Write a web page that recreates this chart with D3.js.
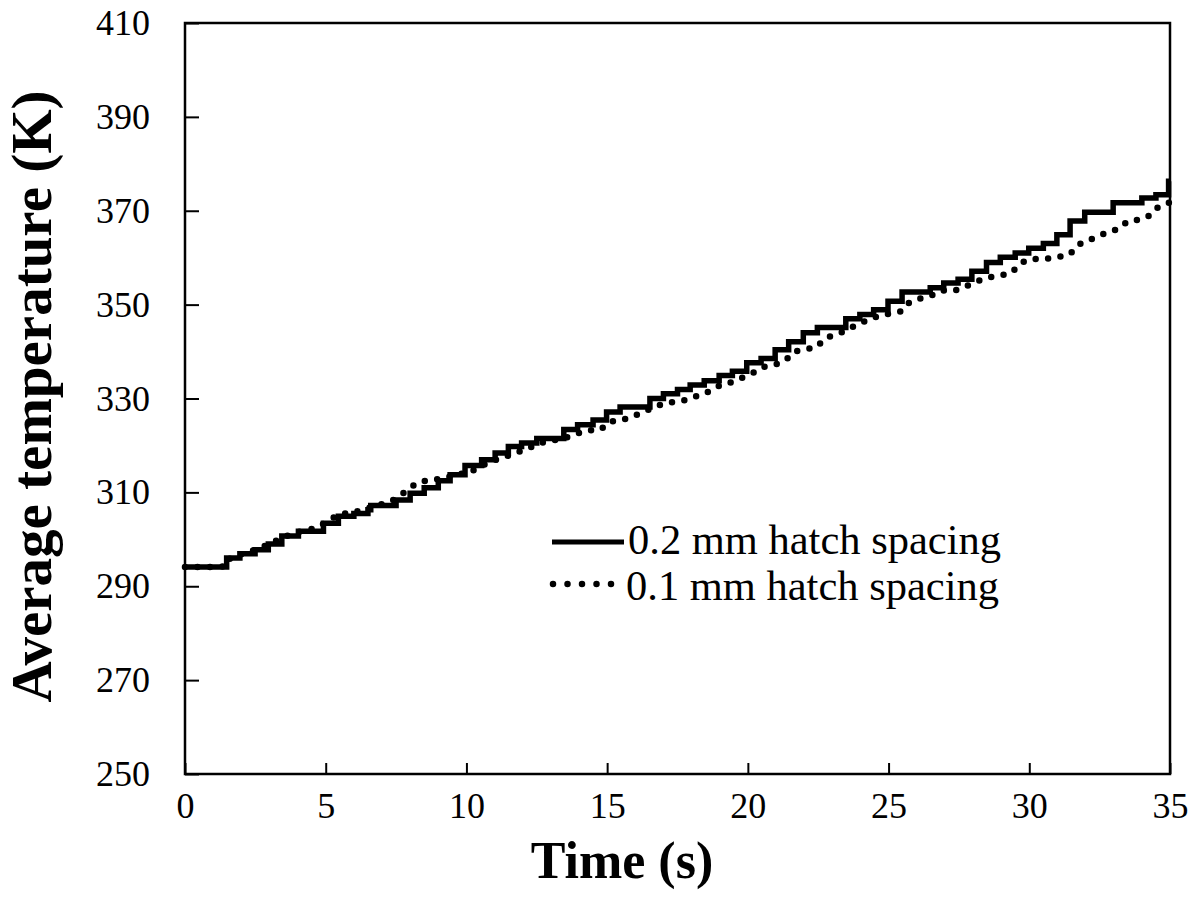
<!DOCTYPE html>
<html>
<head>
<meta charset="utf-8">
<script src="https://cdn.jsdelivr.net/npm/d3@7"></script>
<style>
  body { margin: 0; background: #fff; }
  text { font-family: "Liberation Serif", "Times New Roman", serif; fill: #000; }
</style>
</head>
<body>
<script>
// 0.2 mm hatch spacing: step series (start time of each step, temperature)
let solidTime = [0, 1.48, 1.95, 2.49, 2.96, 3.44, 4.03, 4.92, 5.45, 6.0, 6.5, 6.6, 7.5, 8.0, 8.5, 9.0,
  9.42, 9.95, 10.54, 11.02, 11.49, 11.96, 12.5, 13.46, 13.95, 14.5, 14.98, 15.46, 16.52, 17.0, 17.5,
  17.95, 18.45, 18.98, 19.45, 19.96, 20.47, 20.97, 21.45, 21.97, 22.47, 23.48, 23.98, 24.47, 24.98,
  25.48, 26.48, 26.96, 27.47, 27.96, 28.48, 28.97, 29.5, 29.98, 30.5, 30.98, 31.45, 31.97, 32.98,
  34.0, 34.5, 34.95, 35];
let solidTemp = [294.1, 296.0, 296.9, 297.8, 299.0, 300.7, 301.7, 303.4, 304.9, 305.5, 306.3, 307.2, 308.4, 309.8, 311.0, 312.5,
  313.75, 315.7, 316.95, 318.4, 319.8, 320.5, 321.5, 323.4, 324.4, 325.4, 327.1, 328.2, 330.0, 331.0, 331.9,
  332.9, 333.8, 334.9, 335.8, 337.6, 338.5, 340.4, 342.1, 344.0, 345.1, 347.0, 347.9, 348.9, 350.7,
  352.7, 353.6, 354.6, 355.4, 357.1, 359.0, 360.1, 361.0, 362.0, 363.0, 364.9, 367.8, 369.7, 371.7,
  372.7, 373.4, 376.3, 376.3];

// 0.1 mm hatch spacing: points along the dotted curve
let dotTime = [0, 1.0, 1.5, 1.6, 2.0, 2.5, 3.0, 3.5, 4.0, 4.5, 5.0, 5.45, 6.0, 6.5, 7.0, 7.5, 8.0, 8.3,
  8.7, 9.0, 9.45, 10.0, 10.31, 10.8, 11.43, 11.79, 12.2, 12.6, 13.0, 13.41, 13.87, 14.27, 14.75, 15.1,
  15.48, 15.87, 16.24, 16.62, 17.04, 17.48, 17.9, 18.3, 18.72, 19.03, 19.44, 19.83, 20.2, 20.54, 20.97,
  21.34, 21.62, 22.01, 22.45, 22.71, 23.1, 23.49, 23.83, 24.22, 24.6, 25.03, 25.49, 25.73, 26.12, 26.51,
  26.89, 27.36, 27.75, 28.16, 28.52, 28.99, 29.4, 29.64, 30.03, 30.54, 30.98, 31.45, 31.66, 31.98, 32.4,
  32.75, 33.17, 33.5, 33.97, 34.35, 34.59, 34.97];
let dotTemp = [294.1, 294.1, 294.3, 296.0, 296.8, 297.8, 299.0, 300.5, 301.5, 302.2, 303.5, 305.3, 305.8, 306.6, 307.5, 308.6, 311.0, 312.2,
  312.6, 312.8, 313.4, 314.2, 314.8, 316.5, 317.7, 318.5, 319.4, 320.5, 321.0, 321.4, 322.4, 323.2, 323.3, 325.1,
  325.3, 326.1, 327.0, 328.0, 329.0, 329.3, 329.8, 330.8, 331.7, 332.9, 333.5, 334.5, 335.5, 336.7, 337.2,
  338.1, 339.9, 340.5, 340.9, 342.7, 343.7, 344.4, 345.6, 346.6, 347.5, 348.1, 348.6, 350.4, 351.3, 351.9,
  353.0, 353.0, 353.9, 355.0, 355.8, 356.2, 356.9, 358.7, 359.7, 359.7, 360.1, 360.7, 362.4, 363.6, 364.3,
  365.4, 366.1, 367.8, 368.1, 369.2, 370.9, 371.7];

let xTicks = [0, 5, 10, 15, 20, 25, 30, 35];
let yTicks = [250, 270, 290, 310, 330, 350, 370, 390, 410];
let seriesNames = ["0.2 mm hatch spacing", "0.1 mm hatch spacing"];

let width = 1198, height = 915;
let margin = { left: 185, top: 23, right: 28, bottom: 141 };
let plotW = width - margin.left - margin.right;
let plotH = height - margin.top - margin.bottom;

let svg = d3.select("body").append("svg")
  .attr("width", width)
  .attr("height", height);

let g = svg.append("g")
  .attr("transform", "translate(" + margin.left + "," + margin.top + ")");

let x = d3.scaleLinear().domain([0, 35]).range([0, plotW]);
let y = d3.scaleLinear().domain([250, 410]).range([plotH, 0]);

// axes with inward ticks
let xAxis = g.append("g")
  .attr("transform", "translate(0," + plotH + ")")
  .call(d3.axisBottom(x).tickValues(xTicks).tickSizeInner(-11).tickSizeOuter(0).tickPadding(18));
let yAxis = g.append("g")
  .call(d3.axisLeft(y).tickValues(yTicks).tickSizeInner(-14).tickSizeOuter(0).tickPadding(35));

[xAxis, yAxis].forEach(a => {
  a.select(".domain").remove();
  a.selectAll(".tick line").attr("stroke", "#000").attr("stroke-width", 2);
  a.selectAll("text").style("font-size", "36px").attr("fill", "#000");
});

// plot frame
g.append("rect")
  .attr("width", plotW)
  .attr("height", plotH)
  .attr("fill", "none")
  .attr("stroke", "#000")
  .attr("stroke-width", 2.5);

let solidData = solidTime.map((t, i) => [t, solidTemp[i]]);
let dotData = dotTime.map((t, i) => [t, dotTemp[i]]);

let stepLine = d3.line()
  .x(d => x(d[0]))
  .y(d => y(d[1]))
  .curve(d3.curveStepAfter);

let plainLine = d3.line()
  .x(d => x(d[0]))
  .y(d => y(d[1]));

g.append("path")
  .datum(dotData)
  .attr("d", plainLine)
  .attr("fill", "none")
  .attr("stroke", "#000")
  .attr("stroke-width", 6.5)
  .attr("stroke-linecap", "round")
  .attr("stroke-dasharray", "0 12.5");

g.append("path")
  .datum(solidData)
  .attr("d", stepLine)
  .attr("fill", "none")
  .attr("stroke", "#000")
  .attr("stroke-width", 5.5);

// legend
let legend = svg.append("g");
legend.append("line")
  .attr("x1", 552).attr("x2", 624).attr("y1", 542).attr("y2", 542)
  .attr("stroke", "#000").attr("stroke-width", 5);
legend.append("line")
  .attr("x1", 553).attr("x2", 612).attr("y1", 584).attr("y2", 584)
  .attr("stroke", "#000").attr("stroke-width", 6.5)
  .attr("stroke-linecap", "round").attr("stroke-dasharray", "0 14.5");
legend.selectAll("text.leg")
  .data(seriesNames)
  .enter().append("text")
  .attr("class", "leg")
  .attr("x", (d, i) => i == 0 ? 628 : 626)
  .attr("y", (d, i) => i == 0 ? 554 : 600)
  .style("font-size", "42.5px")
  .text(d => d);

// axis titles
svg.append("text")
  .attr("x", 622)
  .attr("y", 878)
  .attr("text-anchor", "middle")
  .style("font-size", "52px")
  .style("font-weight", "bold")
  .text("Time (s)");

svg.append("text")
  .attr("transform", "translate(51," + (margin.top + plotH / 2 - 2) + ") rotate(-90)")
  .attr("text-anchor", "middle")
  .style("font-size", "57px")
  .style("font-weight", "bold")
  .text("Average temperature (K)");
</script>
</body>
</html>
